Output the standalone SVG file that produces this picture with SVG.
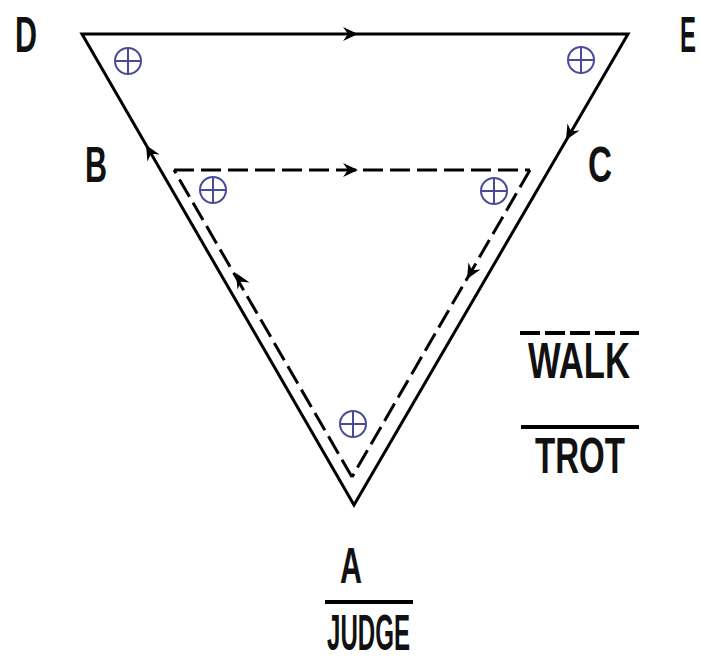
<svg xmlns="http://www.w3.org/2000/svg" width="701" height="657" viewBox="0 0 701 657">
<style>
.ln{fill:none;stroke:#000;stroke-width:3;stroke-linecap:butt;stroke-linejoin:miter}
.dash{fill:none;stroke:#000;stroke-width:3;stroke-dasharray:20 7}
.ct{fill:none;stroke:#4a4a9a;stroke-width:2}
.lbl{font-family:"Liberation Sans",Arial,sans-serif;font-weight:bold;font-size:50px;fill:#111}
.ah{fill:#000}
</style>
<defs>
<path id="arr" d="M8,0 L-7,-7 L-2,0 L-7,7 Z"/>
<g id="cp">
<circle r="13" cx="0" cy="0"/>
<line x1="-13" y1="0" x2="13" y2="0"/>
<line x1="0" y1="-13" x2="0" y2="13"/>
</g>
</defs>
<g id="connectors">
<polygon class="ln" points="82,34 628,34 354,505"/>
<line class="dash" x1="174" y1="170" x2="530" y2="170"/>
<line class="dash" x1="530" y1="170" x2="352" y2="477"/>
<line class="dash" x1="352" y1="477" x2="174" y2="170"/>
<use href="#arr" class="ah" transform="translate(350,34)"/>
<use href="#arr" class="ah" transform="translate(350,170)"/>
<use href="#arr" class="ah" transform="translate(150,152) rotate(-120)"/>
<use href="#arr" class="ah" transform="translate(570,133) rotate(120)"/>
<use href="#arr" class="ah" transform="translate(240,280) rotate(-120)"/>
<use href="#arr" class="ah" transform="translate(471,272) rotate(120)"/>
</g>
<g id="markers" class="ct">
<use href="#cp" transform="translate(128,61)"/>
<use href="#cp" transform="translate(581,60)"/>
<use href="#cp" transform="translate(213,190)"/>
<use href="#cp" transform="translate(494,191)"/>
<use href="#cp" transform="translate(353,424)"/>
</g>
<g id="node-D"><text class="lbl" x="15" y="52" textLength="22" lengthAdjust="spacingAndGlyphs">D</text></g>
<g id="node-E"><text class="lbl" x="680" y="52" textLength="16" lengthAdjust="spacingAndGlyphs">E</text></g>
<g id="node-B"><text class="lbl" x="85" y="182" textLength="22" lengthAdjust="spacingAndGlyphs">B</text></g>
<g id="node-C"><text class="lbl" x="588" y="182" textLength="24" lengthAdjust="spacingAndGlyphs">C</text></g>
<g id="node-A">
<text class="lbl" x="340" y="583" textLength="22" lengthAdjust="spacingAndGlyphs">A</text>
<line x1="325" y1="602" x2="413" y2="602" stroke="#000" stroke-width="4"/>
<text class="lbl" x="327" y="650" font-size="48" textLength="83" lengthAdjust="spacingAndGlyphs">JUDGE</text>
</g>
<g id="legend">
<line x1="520" y1="333" x2="639" y2="333" stroke="#000" stroke-width="4" stroke-dasharray="20 5"/>
<text class="lbl" x="528" y="378" textLength="102" lengthAdjust="spacingAndGlyphs">WALK</text>
<line x1="521" y1="427" x2="639" y2="427" stroke="#000" stroke-width="4"/>
<text class="lbl" x="535" y="473" textLength="90" lengthAdjust="spacingAndGlyphs">TROT</text>
</g>
</svg>
